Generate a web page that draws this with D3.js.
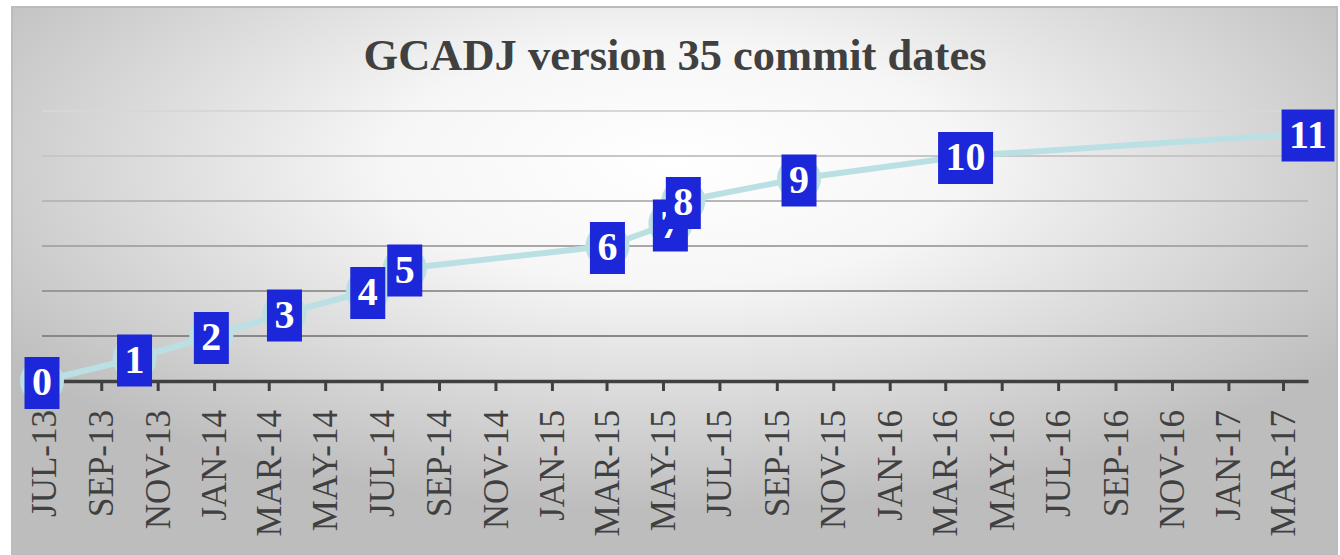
<!DOCTYPE html>
<html>
<head>
<meta charset="utf-8">
<script src="https://cdn.jsdelivr.net/npm/d3@7"></script>
<style>
  html, body { margin: 0; padding: 0; background: #ffffff; }
  svg { display: block; }
</style>
</head>
<body>
<svg id="chart" width="1340" height="555"></svg>
<script>
// ---- data ----
const title = "GCADJ version 35 commit dates";
const commitDates = ["2013-06-29", "2013-10-07", "2013-12-29", "2014-03-18", "2014-06-16", "2014-07-26",
                     "2015-03-02", "2015-05-09", "2015-05-23", "2015-09-25", "2016-03-23", "2017-03-28"];
const commitValues = [0, 0.5, 1, 1.5, 2, 2.5, 3, 3.5, 4, 4.5, 5, 5.5];
const commitLabels = ["0", "1", "2", "3", "4", "5", "6", "7", "8", "9", "10", "11"];
const tickLabels = ["JUL-13", "SEP-13", "NOV-13", "JAN-14", "MAR-14", "MAY-14", "JUL-14", "SEP-14", "NOV-14",
                    "JAN-15", "MAR-15", "MAY-15", "JUL-15", "SEP-15", "NOV-15", "JAN-16", "MAR-16", "MAY-16",
                    "JUL-16", "SEP-16", "NOV-16", "JAN-17", "MAR-17"];
const yGridValues = [1, 2, 3, 4, 5, 6];

// ---- setup ----
const svg = d3.select("#chart");
const W = 1340, H = 555;
const parseDate = d3.timeParse("%Y-%m-%d");
const parseTick = d3.timeParse("%b-%y");
const data = commitDates.map((d, i) => ({ date: parseDate(d), value: commitValues[i], label: commitLabels[i] }));
const ticks = tickLabels.map(t => parseTick(t));

const x = d3.scaleTime().domain([data[0].date, data[data.length - 1].date]).range([42, 1308]);
const y = d3.scaleLinear().domain([0, 6]).range([381, 111]);

const defs = svg.append("defs");
const bg = defs.append("radialGradient").attr("id", "bg")
  .attr("cx", "50%").attr("cy", "28%").attr("r", "62%").attr("fx", "50%").attr("fy", "28%");
bg.append("stop").attr("offset", "0%").attr("stop-color", "#ffffff");
bg.append("stop").attr("offset", "35%").attr("stop-color", "#f6f6f6");
bg.append("stop").attr("offset", "100%").attr("stop-color", "#bdbdbd");

const gg = defs.append("linearGradient").attr("id", "gridGrad")
  .attr("gradientUnits", "userSpaceOnUse").attr("x1", 0).attr("y1", 105).attr("x2", 0).attr("y2", 345);
gg.append("stop").attr("offset", "0%").attr("stop-color", "#d9d9d9");
gg.append("stop").attr("offset", "100%").attr("stop-color", "#858585");

// frame
svg.append("rect").attr("x", 12).attr("y", 7).attr("width", 1325).attr("height", 560)
  .attr("fill", "url(#bg)").attr("stroke", "#bcbcbc").attr("stroke-width", 2);

// title
svg.append("text").attr("x", 675).attr("y", 70).attr("text-anchor", "middle")
  .attr("font-family", "'Liberation Serif', 'Times New Roman', serif").attr("font-weight", "bold")
  .attr("font-size", 44.5).attr("fill", "#404040").text(title);

// gridlines
svg.append("g").selectAll("line").data(yGridValues).join("line")
  .attr("x1", x.range()[0]).attr("x2", x.range()[1])
  .attr("y1", d => y(d)).attr("y2", d => y(d))
  .attr("stroke", "url(#gridGrad)").attr("stroke-width", 2);

// x axis
const xAxis = d3.axisBottom(x).tickValues(ticks).tickSize(10).tickSizeOuter(0)
  .tickFormat((d, i) => tickLabels[i]);
const gx = svg.append("g").attr("transform", `translate(0,${y(0)})`).call(xAxis);
gx.select(".domain").attr("stroke", "#404040").attr("stroke-width", 3.5);
gx.selectAll(".tick line").attr("stroke", "#404040").attr("stroke-width", 3);
gx.selectAll(".tick text")
  .attr("transform", "rotate(-90)")
  .attr("x", -29).attr("y", 0).attr("dy", "0.33em")
  .attr("text-anchor", "end")
  .attr("font-family", "'Liberation Serif', 'Times New Roman', serif")
  .attr("font-size", 35).attr("fill", "#404040");

// line
const line = d3.line().x(d => x(d.date)).y(d => y(d.value));
svg.append("path").datum(data).attr("d", line)
  .attr("fill", "none").attr("stroke", "#bbe0e4").attr("stroke-width", 6).attr("stroke-linejoin", "round");

// markers
svg.append("g").selectAll("circle").data(data).join("circle")
  .attr("cx", d => x(d.date)).attr("cy", d => y(d.value)).attr("r", 22)
  .attr("fill", "#bbe0e4");

// labels
const lg = svg.append("g");
data.forEach(d => {
  const g = lg.append("g").attr("transform", `translate(${x(d.date)},${y(d.value)})`);
  const r = g.append("rect").attr("fill", "#1c27da");
  const t = g.append("text").attr("text-anchor", "middle").attr("dy", "0.35em")
    .attr("font-family", "'Liberation Serif', 'Times New Roman', serif").attr("font-weight", "bold")
    .attr("font-size", 40).attr("fill", "#ffffff").text(d.label);
  const w = t.node().getComputedTextLength() + 15;
  const h = 52;
  r.attr("x", -w / 2).attr("y", -h / 2 + 2).attr("width", w).attr("height", h);
});
</script>
</body>
</html>
